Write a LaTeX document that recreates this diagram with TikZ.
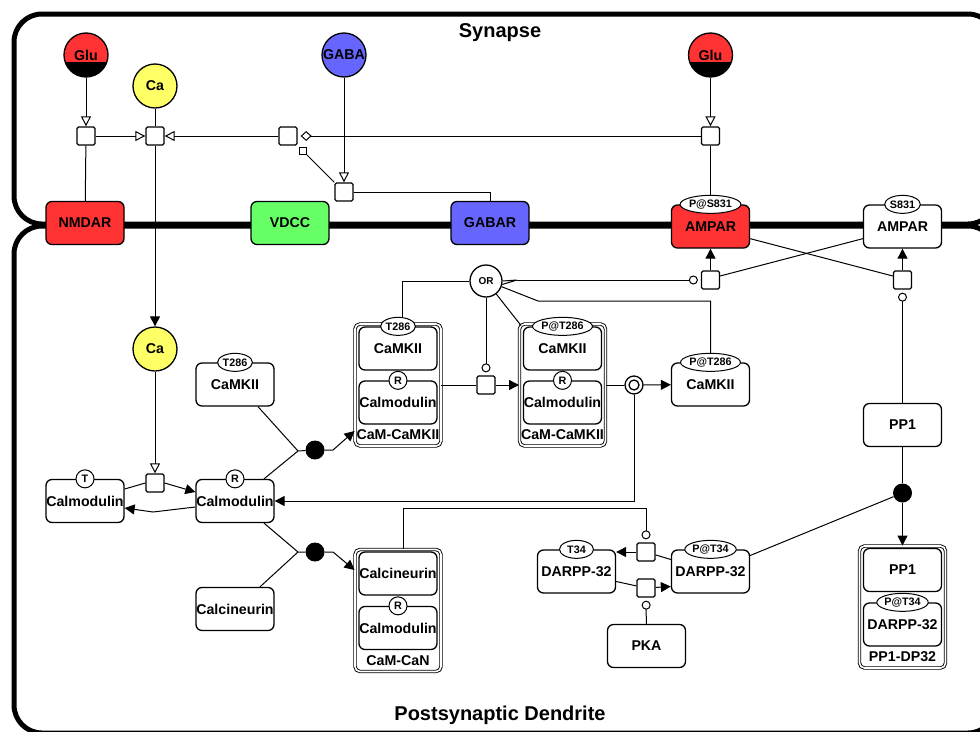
\documentclass[tikz,border=0pt]{standalone}
\usepackage{fontspec}
\setmainfont{Liberation Sans}
\usetikzlibrary{arrows.meta}
\usetikzlibrary{shapes.geometric}
\definecolor{memred}{HTML}{FF3333}
\definecolor{memgreen}{HTML}{66FF66}
\definecolor{memblue}{HTML}{6666FF}
\definecolor{chemyellow}{HTML}{FFFF66}
\newcommand{\epnfont}{\fontsize{14.2}{16}\selectfont\bfseries}
\newcommand{\uofont}{\fontsize{10.8}{12}\selectfont\bfseries}
\newcommand{\ttlfont}{\fontsize{20}{24}\selectfont\bfseries}
\tikzset{
  macro/.style={draw, line width=1.3pt, rounded corners=6pt, fill=white, minimum width=78pt, minimum height=43pt, inner sep=0pt, font=\epnfont},
  complex/.style={draw, double, double distance=1.6pt, line width=0.9pt, rounded corners=5pt, minimum width=86pt, minimum height=122pt, inner sep=0pt},
  cxlabel/.style={inner sep=0pt, font=\epnfont},
  chem/.style={circle, draw, line width=1.3pt, minimum size=44pt, inner sep=0pt, font=\epnfont},
  clone/.style={fill=memred, path picture={\fill[black] ([yshift=-7pt]path picture bounding box.west) rectangle (path picture bounding box.south east);}},
  proc/.style={draw, line width=1.3pt, rounded corners=1.5pt, minimum size=18pt, inner sep=0pt, fill=white},
  modsq/.style={draw, line width=1pt, minimum size=7pt, inner sep=0pt, fill=white},
  assoc/.style={circle, fill=black, minimum size=19pt, inner sep=0pt},
  dissoc/.style={circle, draw, line width=1.3pt, minimum size=18pt, inner sep=0pt, path picture={\draw[line width=1.3pt] (path picture bounding box.center) circle (5pt);}},
  logic/.style={circle, draw, line width=1.3pt, minimum size=32pt, inner sep=0pt, font=\fontsize{10}{12}\selectfont\bfseries},
  uinfo/.style={draw, ellipse, line width=1pt, fill=white, inner sep=0pt, minimum height=18pt, minimum width=34pt, font=\uofont},
  ustate/.style={draw, circle, line width=1pt, fill=white, inner sep=0pt, minimum size=18pt, font=\uofont},
  flux/.style={line width=1pt},
  prod/.style={flux, -{Triangle[length=10pt,width=10pt]}},
  stim/.style={flux, -{Triangle[open,length=10pt,width=10pt]}},
  cata/.style={flux, -{Circle[open,length=9pt]}, shorten >=3pt},
  modul/.style={flux, -{Diamond[open,length=11pt,width=10pt]}, shorten >=3pt},
  compart/.style={line width=5pt, rounded corners=28pt}
}
\begin{document}
\begin{tikzpicture}[x=1pt, y=-1pt]
  \useasboundingbox (0,0) rectangle (980,731);
  % compartments
  \draw[compart] (14,14) rectangle (996,224);
  \draw[compart] (14,226) rectangle (996,733);
  \node[font=\ttlfont] (syn) at (500,33) {Synapse};
  \node[font=\ttlfont] (dend) at (500,715) {Postsynaptic Dendrite};

  % membrane
  \node[macro, fill=memred] (nmdar) at (85,223) {NMDAR};
  \node[macro, fill=memgreen] (vdcc) at (290,223) {VDCC};
  \node[macro, fill=memblue] (gabar) at (490,223) {GABAR};
  \node[macro, fill=memred] (ampar1) at (710.5,226.5) {AMPAR};
  \node[macro] (ampar2) at (902.5,226.5) {AMPAR};

  % synapse
  \node[chem, clone] (glu1) at (86,55) {Glu};
  \node[chem, fill=chemyellow] (ca1) at (155,86) {Ca};
  \node[chem, fill=memblue] (gaba) at (344,55) {GABA};
  \node[chem, clone] (glu2) at (710.5,55) {Glu};
  \node[proc] (p1) at (86,136) {};
  \node[proc] (p2) at (155,136) {};
  \node[proc] (p3) at (288,136) {};
  \node[proc] (p4) at (344,192) {};
  \node[proc] (p5) at (710.5,136) {};
  \node[modsq] (p4m) at (303,151) {};

  % dendrite
  \node[chem, fill=chemyellow] (ca2) at (155,349) {Ca};
  \node[macro] (camk0) at (235,384.5) {CaMKII};
  \node[macro] (calT) at (85,501) {Calmodulin};
  \node[macro] (calR) at (235,501) {Calmodulin};
  \node[macro] (calcn) at (235,609) {Calcineurin};
  \node[macro] (camkP) at (710.5,384.5) {CaMKII};
  \node[macro] (pp1) at (902.5,425) {PP1};
  \node[macro] (darppT) at (576.5,571.5) {DARPP-32};
  \node[macro] (darppP) at (710.5,571.5) {DARPP-32};
  \node[macro] (pka) at (646.5,646) {PKA};

  \node[complex] (cx1) at (398,385) {};
  \node[macro] (cx1a) at (398,348.5) {CaMKII};
  \node[macro] (cx1b) at (398,402.5) {Calmodulin};
  \node[cxlabel] (cx1l) at (398,435) {CaM-CaMKII};
  \node[complex] (cx2) at (562.5,385) {};
  \node[macro] (cx2a) at (562.5,348.5) {CaMKII};
  \node[macro] (cx2b) at (562.5,402.5) {Calmodulin};
  \node[cxlabel] (cx2l) at (562.5,435) {CaM-CaMKII};
  \node[complex] (cx3) at (398,610.5) {};
  \node[macro] (cx3a) at (398,573.5) {Calcineurin};
  \node[macro] (cx3b) at (398,628) {Calmodulin};
  \node[cxlabel] (cx3l) at (398,661) {CaM-CaN};
  \node[complex] (cx4) at (902.5,607) {};
  \node[macro] (cx4a) at (902.5,570) {PP1};
  \node[macro] (cx4b) at (902.5,624.5) {DARPP-32};
  \node[cxlabel] (cx4l) at (902.5,657) {PP1-DP32};

  \node[proc] (p6) at (155,483) {};
  \node[proc] (p7) at (486,385) {};
  \node[proc] (p9) at (710.5,280) {};
  \node[proc] (p10) at (902.5,280) {};
  \node[proc] (p11) at (646,552) {};
  \node[proc] (p12) at (646,588) {};
  \node[dissoc] (diss) at (634,385) {};
  \node[assoc] (a1) at (315,450) {};
  \node[assoc] (a2) at (902.5,493) {};
  \node[assoc] (a3) at (315,552) {};
  \node[logic] (or) at (486,281) {OR};
  \coordinate (j1) at (298,451);
  \coordinate (j3) at (298,552);
  \coordinate (orport) at (517,280);

  % synapse arcs
  \draw[stim] (glu1) -- (p1);
  \draw[flux] (p1) -- (nmdar);
  \draw[stim] (p1) -- (p2);
  \draw[flux] (ca1) -- (p2);
  \draw[prod] (p2) -- (ca2);
  \draw[stim] (p3) -- (p2);
  \draw[flux] (p3.south -| 290,0) -- (p3.south -| 290,0 |- vdcc.north);
  \draw[modul] (p5) -- (p3);
  \draw[flux] (p5) -- (ampar1);
  \draw[stim] (glu2) -- (p5);
  \draw[stim] (gaba) -- (p4);
  \draw[flux] (p4) -| (gabar);
  \draw[flux] (p4.north west) -- (p4m.south east);

  % dendrite arcs
  \draw[stim] (ca2) -- (p6);
  \draw[flux] ([yshift=12pt]calT.east) -- (p6.west);
  \draw[prod] (p6.east) -- ([yshift=9pt]calR.west);
  \draw[prod] ([yshift=-6pt]calR.west) -- (153,512) -- ([yshift=-7pt]calT.east);
  \draw[flux] (camk0.south -| 258,0) -- (j1) (calR.north -| 264,0) -- (j1) -- (a1);
  \draw[prod] (a1) -- (333,450) -- (cx1.west |- 0,431);
  \draw[flux] (calR.south -| 264,0) -- (j3) (calcn.north -| 260,0) -- (j3) -- (a3);
  \draw[prod] (a3) -- (333,552) -- (cx3.west |- 0,570);
  \draw[flux] (cx1) -- (p7);
  \draw[prod] (p7) -- (cx2);
  \draw[flux] (cx2) -- (diss);
  \draw[prod] (diss) -- (camkP);
  \draw[prod] (diss) |- (calR);
  \draw[flux] (or) -| ([xshift=4pt]cx1.north);
  \draw[flux] (or) -- ([shift={(2pt,-2pt)}]cx2.north west);
  \draw[flux] (camkP.north) |- (538,301) -- (or.-20);
  \draw[cata] (or) -- (p7);
  \draw[flux] (or.east) -- (orport) (or.-12) -- (orport);
  \draw[cata] (orport) -- (p9);
  \draw[prod] (p9) -- (ampar1);
  \draw[flux] ([yshift=4pt]p9.east) -- ([yshift=10pt]ampar2.south west);
  \draw[flux] ([yshift=10pt]ampar1.south east) -- ([yshift=4pt]p10.west);
  \draw[prod] (p10) -- (ampar2);
  \draw[cata] (pp1) -- (p10);
  \draw[flux] (pp1) -- (a2);
  \draw[flux] ([yshift=16pt]darppP.east) -- (a2);
  \draw[prod] (a2) -- (cx4);
  \draw[flux] ([yshift=12pt]darppP.west) -- (p11);
  \draw[prod] (p11) -- (p11 -| darppT.east);
  \draw[cata] ([xshift=5pt]cx3.north) |- (646,508) -- (p11);
  \draw[flux] ([yshift=-10pt]darppT.east) -- (p12);
  \draw[prod] (p12) -- ([yshift=-15pt]darppP.west);
  \draw[cata] (pka) -- (p12);

  % units of information
  \node[uinfo] (ampar1u) at (ampar1.north) {P@S831};
  \node[uinfo] (ampar2u) at (ampar2.north) {S831};
  \node[uinfo] (camk0u) at (camk0.north) {T286};
  \node[uinfo] (cx1au) at (cx1a.north) {T286};
  \node[uinfo] (cx2au) at (cx2a.north) {P@T286};
  \node[uinfo] (camkPu) at (camkP.north) {P@T286};
  \node[uinfo] (darppTu) at (darppT.north) {T34};
  \node[uinfo] (darppPu) at (darppP.north) {P@T34};
  \node[uinfo] (cx4bu) at (cx4b.north) {P@T34};
  \node[ustate] (calTu) at (calT.north) {T};
  \node[ustate] (calRu) at (calR.north) {R};
  \node[ustate] (cx1bu) at (cx1b.north) {R};
  \node[ustate] (cx2bu) at (cx2b.north) {R};
  \node[ustate] (cx3bu) at (cx3b.north) {R};
\end{tikzpicture}
\end{document}
